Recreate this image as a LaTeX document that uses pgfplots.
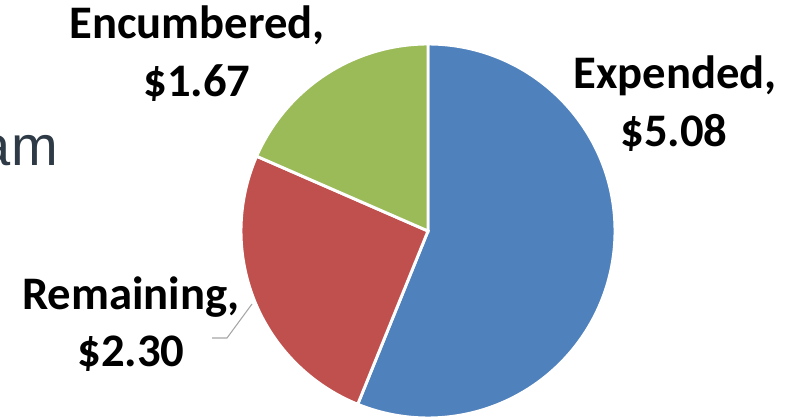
\documentclass[border=0pt]{standalone}
\usepackage{pgfplots}
\pgfplotsset{compat=1.18}
\usepackage{pgfplotstable}
\usepackage{fontspec}
\setmainfont{Carlito}
\newfontfamily\arialfont{Liberation Sans}
\definecolor{expColor}{RGB}{79,129,189}
\definecolor{remColor}{RGB}{192,80,77}
\definecolor{encColor}{RGB}{155,187,89}
\definecolor{leadColor}{RGB}{166,166,166}
\definecolor{amColor}{RGB}{46,58,70}

\pgfplotstableread{
label value
Expended 5.08
Remaining 2.30
Encumbered 1.67
}\piedata

\begin{document}
\begin{tikzpicture}[
    slice/.style={draw=white, line width=2.2pt, line join=miter},
    lbl/.style={anchor=base, font=\bfseries\fontsize{35}{42}\selectfont, inner sep=0pt},
]
\useasboundingbox (0,0) rectangle (591pt,315pt);
\pgfplotstablegetelem{0}{value}\of\piedata \let\vExp\pgfplotsretval
\pgfplotstablegetelem{1}{value}\of\piedata \let\vRem\pgfplotsretval
\pgfplotstablegetelem{2}{value}\of\piedata \let\vEnc\pgfplotsretval
\pgfmathsetmacro\total{\vExp+\vRem+\vEnc}
% slices start at 12 o'clock and run clockwise
\pgfmathsetmacro\aA{90}
\pgfmathsetmacro\aB{\aA-360*\vExp/\total}
\pgfmathsetmacro\aC{\aB-360*\vRem/\total}
\pgfmathsetmacro\aD{\aC-360*\vEnc/\total}
\def\cx{428}\def\cy{189}\def\R{187}
\begin{axis}[
    at={(0,0)}, anchor=south west,
    scale only axis, width=591pt, height=315pt,
    xmin=0, xmax=788, ymin=0, ymax=420,
    hide axis, clip=false,
]
\filldraw[slice, fill=expColor] (axis cs:\cx,\cy) -- (axis cs:{\cx+\R*cos(\aA)},{\cy+\R*sin(\aA)})
    arc[start angle=\aA, end angle=\aB, radius=140.25pt] -- cycle;
\filldraw[slice, fill=remColor] (axis cs:\cx,\cy) -- (axis cs:{\cx+\R*cos(\aB)},{\cy+\R*sin(\aB)})
    arc[start angle=\aB, end angle=\aC, radius=140.25pt] -- cycle;
\filldraw[slice, fill=encColor] (axis cs:\cx,\cy) -- (axis cs:{\cx+\R*cos(\aC)},{\cy+\R*sin(\aC)})
    arc[start angle=\aC, end angle=\aD, radius=140.25pt] -- cycle;

% labels
\node[lbl] at (axis cs:197,381) {Encumbered,};
\node[lbl] at (axis cs:197,323) {\$1.67};
\node[lbl] at (axis cs:675,331) {Expended,};
\node[lbl] at (axis cs:674,273) {\$5.08};
\node[lbl] at (axis cs:131,110) {Remaining,};
\node[lbl] at (axis cs:131,53) {\$2.30};
\draw[leadColor, line width=0.8pt] (axis cs:252,116) -- (axis cs:227,82) -- (axis cs:212,82);

% cut-off text from the slide behind
\node[anchor=base east, inner sep=0pt, text=amColor, font=\arialfont\fontsize{42}{50}\selectfont]
    at (axis cs:58,254) {am};
\end{axis}
\end{tikzpicture}
\end{document}
